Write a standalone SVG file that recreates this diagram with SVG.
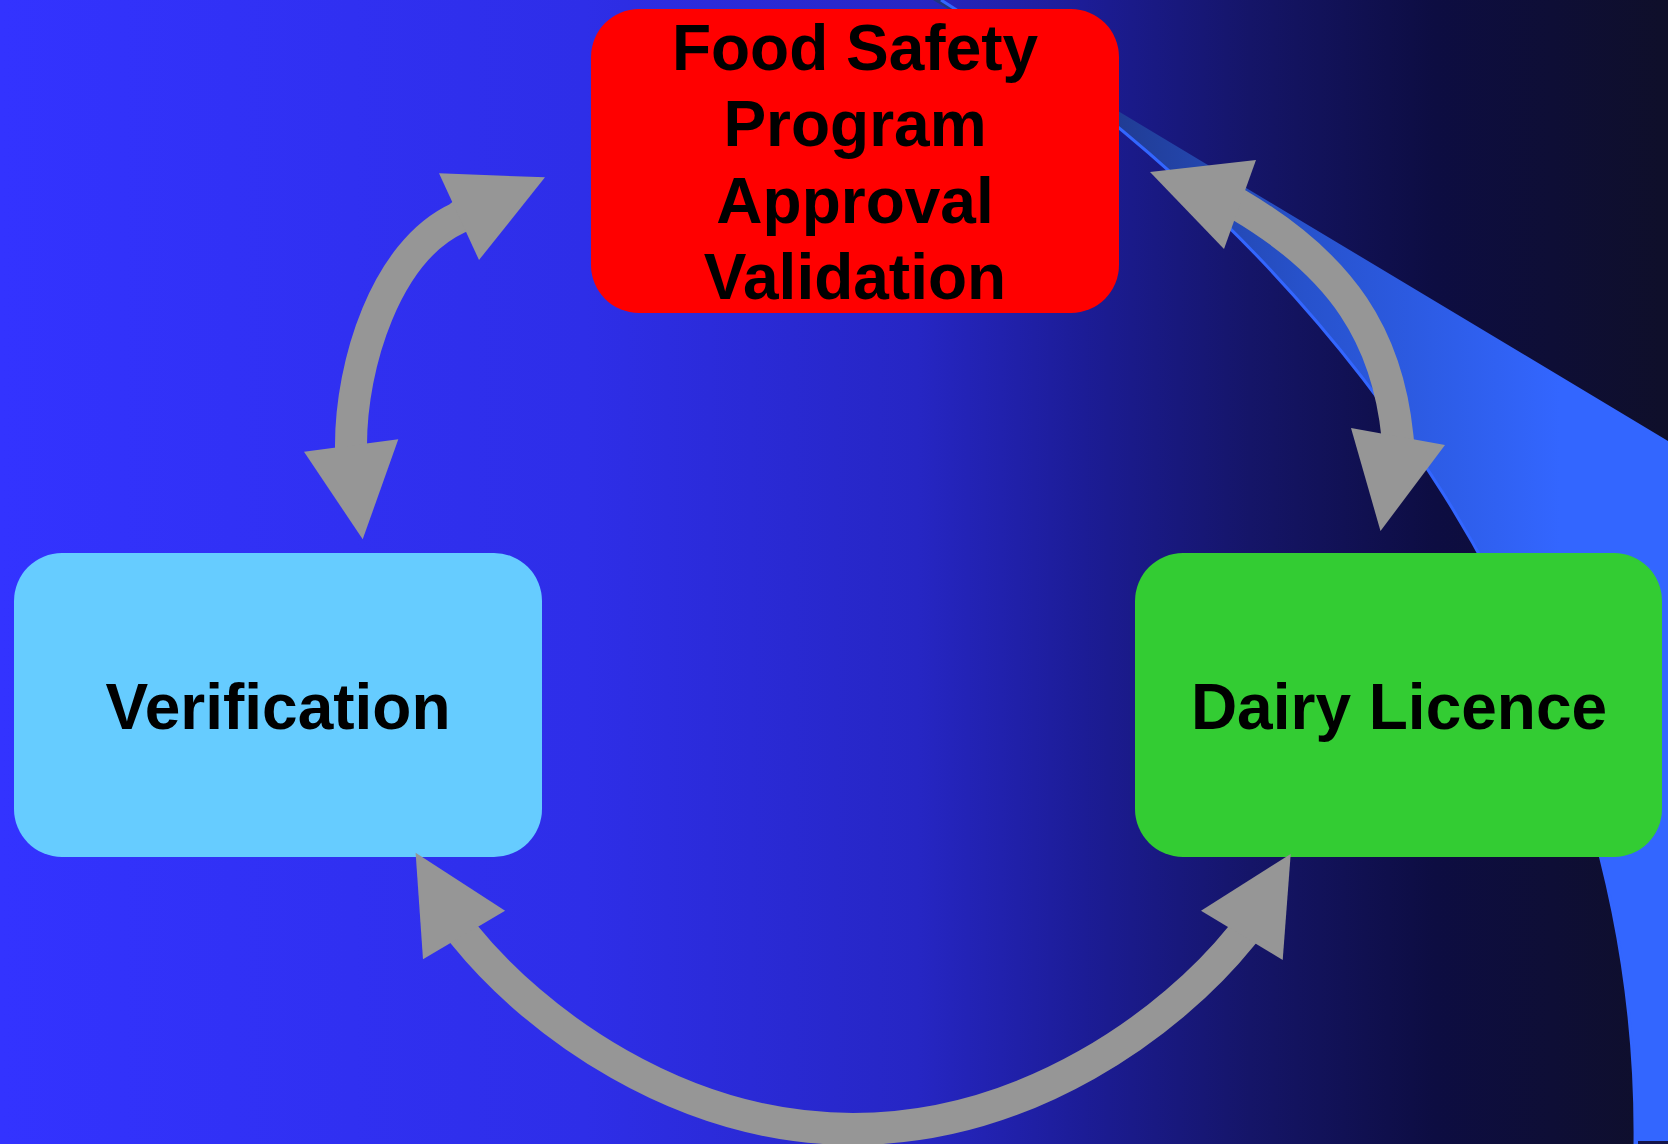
<svg xmlns="http://www.w3.org/2000/svg" width="1668" height="1144" viewBox="0 0 1668 1144">
  <defs>
    <linearGradient id="bg" gradientUnits="userSpaceOnUse" x1="0" y1="0" x2="1668" y2="0">
      <stop offset="0" stop-color="#3333FF"/>
      <stop offset="0.35" stop-color="#2E2EE8"/>
      <stop offset="0.55" stop-color="#2626C4"/>
      <stop offset="0.65" stop-color="#1C1C96"/>
      <stop offset="0.75" stop-color="#151568"/>
      <stop offset="0.86" stop-color="#0D0D42"/>
      <stop offset="1" stop-color="#0F0F2A"/>
    </linearGradient>
    <linearGradient id="sw" gradientUnits="userSpaceOnUse" x1="1050" y1="0" x2="1560" y2="0">
      <stop offset="0" stop-color="#1E3480"/>
      <stop offset="0.5" stop-color="#2752CC"/>
      <stop offset="1" stop-color="#3366FF"/>
    </linearGradient>
    <style>
      .node-text { font-family: "Liberation Sans", Arial, sans-serif; font-weight: bold; font-size: 64px; fill: #000000; text-anchor: middle; }
      .shaft { fill: none; stroke: #969696; stroke-width: 32; stroke-linecap: butt; }
      .head { fill: #969696; }
    </style>
  </defs>

  <g id="background">
    <rect x="0" y="0" width="1668" height="1144" fill="url(#bg)"/>
    <path d="M 933,0 L 1668,441 L 1668,1144 L 1635,1144 C 1640,680 1350,255 941,0 Z" fill="url(#sw)"/>
    <path d="M 941,0 C 1350,255 1640,680 1635,1144" fill="none" stroke="#3366FF" stroke-width="3"/>
    <rect x="1638" y="1141" width="30" height="3" fill="#14144A"/>
  </g>

  <g id="node-approval">
    <rect x="591" y="9" width="528" height="304" rx="48" ry="48" fill="#FF0000"/>
    <text class="node-text" x="855" y="70">Food Safety</text>
    <text class="node-text" x="855" y="146">Program</text>
    <text class="node-text" x="855" y="223">Approval</text>
    <text class="node-text" x="855" y="299">Validation</text>
  </g>

  <g id="node-verification">
    <rect x="14" y="553" width="528" height="304" rx="48" ry="48" fill="#66CCFF"/>
    <text class="node-text" x="278" y="729">Verification</text>
  </g>

  <g id="node-licence">
    <rect x="1135" y="553" width="527" height="304" rx="48" ry="48" fill="#33CC33"/>
    <text class="node-text" x="1399" y="729">Dairy Licence</text>
  </g>

  <g id="connectors">
    <!-- Verification <-> Approval -->
    <path class="shaft" d="M 351,453 L 351,445 C 351,365 385.4,251.5 458,218 L 463,214"/>
    <polygon class="head" points="439,173.3 545,177.3 479,260"/>
    <polygon class="head" points="304,451.7 398.3,439.3 362.7,539.3"/>

    <!-- Approval <-> Dairy Licence -->
    <path class="shaft" d="M 1233,201.5 L 1239.7,205.5 C 1342.9,266.7 1387.5,337.2 1397.5,436.7 L 1398.3,444.7"/>
    <polygon class="head" points="1256,160 1224,249 1150,172"/>
    <polygon class="head" points="1351,428 1445,445 1380.5,531"/>

    <!-- Verification <-> Dairy Licence -->
    <path class="shaft" d="M 459.5,929 L 464.5,935 C 533.8,1020.8 678,1129 853,1129 C 1028,1129 1172,1022 1241.3,936 L 1246.3,930"/>
    <polygon class="head" points="415.6,852.7 505.1,910.7 423,959.3"/>
    <polygon class="head" points="1290.7,854 1282.7,960 1201,910.7"/>
  </g>
</svg>
